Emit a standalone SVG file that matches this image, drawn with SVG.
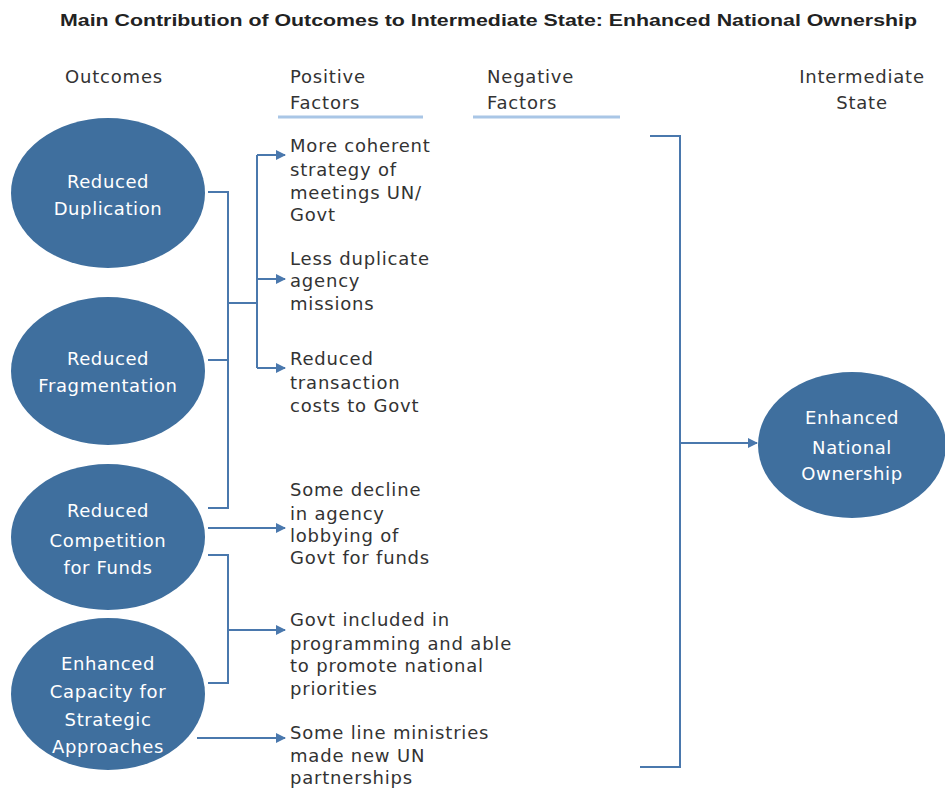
<svg xmlns="http://www.w3.org/2000/svg" width="945" height="790" viewBox="0 0 945 790">
<defs>
<marker id="ah" markerWidth="10" markerHeight="10" refX="9" refY="5" orient="auto" markerUnits="userSpaceOnUse">
<path d="M0,0 L10,5 L0,10 Z" fill="#4a78ad"/>
</marker>
<style>
.t{font-family:"DejaVu Sans","Noto Sans",sans-serif;font-size:18px;fill:#333;letter-spacing:0.8px}
.w{font-family:"DejaVu Sans","Noto Sans",sans-serif;font-size:18px;fill:#fff;text-anchor:middle;letter-spacing:0.6px}
.title{font-family:"Liberation Sans",Arial,sans-serif;font-size:16px;font-weight:bold;fill:#222}
.e{fill:#3f6f9e}
.c{fill:none;stroke:#4a78ad;stroke-width:2}
.u{stroke:#a9c6e6;stroke-width:3}
</style>
</defs>
<rect width="945" height="790" fill="#fff"/>
<text class="title" x="60" y="26" textLength="857" lengthAdjust="spacingAndGlyphs">Main Contribution of Outcomes to Intermediate State: Enhanced National Ownership</text>
<g id="headers">
<text class="t" x="65" y="83">Outcomes</text>
<text class="t" x="290" y="83">Positive</text>
<text class="t" x="290" y="109">Factors</text>
<text class="t" x="487" y="83">Negative</text>
<text class="t" x="487" y="109">Factors</text>
<text class="t" x="862" y="83" text-anchor="middle">Intermediate</text>
<text class="t" x="862" y="109" text-anchor="middle">State</text>
<line class="u" x1="278" y1="117" x2="423" y2="117"/>
<line class="u" x1="473" y1="117" x2="620" y2="117"/>
</g>
<g id="connectors">
<path class="c" d="M208,192 H228 V508 H208"/>
<path class="c" d="M208,360 H228"/>
<path class="c" d="M228,303 H257"/>
<path class="c" d="M257,155 V368"/>
<path class="c" d="M257,155 H285" marker-end="url(#ah)"/>
<path class="c" d="M257,279 H285" marker-end="url(#ah)"/>
<path class="c" d="M257,368 H285" marker-end="url(#ah)"/>
<path class="c" d="M208,528 H285" marker-end="url(#ah)"/>
<path class="c" d="M208,555 H228 V683 H208"/>
<path class="c" d="M228,630 H285" marker-end="url(#ah)"/>
<path class="c" d="M197,738 H285" marker-end="url(#ah)"/>
<path class="c" d="M650,136 H680 V767 H640"/>
<path class="c" d="M680,443 H757" marker-end="url(#ah)"/>
</g>
<g id="n1"><ellipse class="e" cx="108" cy="193" rx="97" ry="75"/>
<text class="w" x="108" y="188">Reduced</text><text class="w" x="108" y="215">Duplication</text></g>
<g id="n2"><ellipse class="e" cx="108" cy="371" rx="97" ry="74"/>
<text class="w" x="108" y="365">Reduced</text><text class="w" x="108" y="392">Fragmentation</text></g>
<g id="n3"><ellipse class="e" cx="108" cy="537" rx="97" ry="73"/>
<text class="w" x="108" y="517">Reduced</text><text class="w" x="108" y="547">Competition</text><text class="w" x="108" y="574">for Funds</text></g>
<g id="n4"><ellipse class="e" cx="108" cy="694" rx="97" ry="76"/>
<text class="w" x="108" y="670">Enhanced</text><text class="w" x="108" y="698">Capacity for</text><text class="w" x="108" y="726">Strategic</text><text class="w" x="108" y="753">Approaches</text></g>
<g id="n5"><ellipse class="e" cx="852" cy="445" rx="94" ry="73"/>
<text class="w" x="852" y="424">Enhanced</text><text class="w" x="852" y="454">National</text><text class="w" x="852" y="480">Ownership</text></g>
<g id="f1"><text class="t" x="290" y="152">More coherent</text><text class="t" x="290" y="176">strategy of</text><text class="t" x="290" y="199">meetings UN/</text><text class="t" x="290" y="221">Govt</text></g>
<g id="f2"><text class="t" x="290" y="265">Less duplicate</text><text class="t" x="290" y="287">agency</text><text class="t" x="290" y="310">missions</text></g>
<g id="f3"><text class="t" x="290" y="365">Reduced</text><text class="t" x="290" y="389">transaction</text><text class="t" x="290" y="412">costs to Govt</text></g>
<g id="f4"><text class="t" x="290" y="496">Some decline</text><text class="t" x="290" y="520">in agency</text><text class="t" x="290" y="542">lobbying of</text><text class="t" x="290" y="564">Govt for funds</text></g>
<g id="f5"><text class="t" x="290" y="626">Govt included in</text><text class="t" x="290" y="650">programming and able</text><text class="t" x="290" y="672">to promote national</text><text class="t" x="290" y="695">priorities</text></g>
<g id="f6"><text class="t" x="290" y="739">Some line ministries</text><text class="t" x="290" y="762">made new UN</text><text class="t" x="290" y="784">partnerships</text></g>
</svg>
